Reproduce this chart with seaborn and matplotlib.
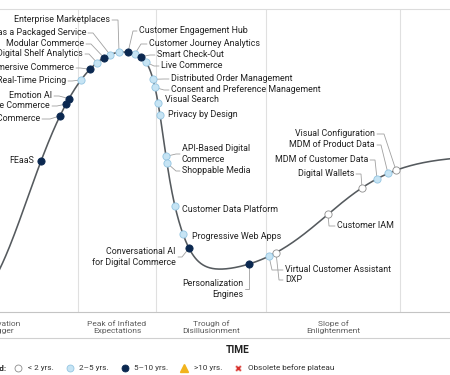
import numpy as np
import pandas as pd
import matplotlib
matplotlib.use("Agg")
import matplotlib.pyplot as plt
from matplotlib.lines import Line2D
import seaborn as sns

# ---------------- data ----------------
ITEMS = [
    "FEaaS", "Metaverse Commerce", "Voice Commerce", "Emotion AI", "Real-Time Pricing",
    "Immersive Commerce", "Digital Shelf Analytics", "Modular Commerce",
    "Commerce as a Packaged Service", "Enterprise Marketplaces",
    "Customer Engagement Hub", "Customer Journey Analytics", "Smart Check-Out",
    "Live Commerce", "Distributed Order Management", "Consent and Preference Management",
    "Visual Search", "Privacy by Design", "API-Based Digital Commerce", "Shoppable Media",
    "Customer Data Platform", "Progressive Web Apps", "Conversational AI for Digital Commerce",
    "Personalization Engines", "Virtual Customer Assistant", "DXP", "Customer IAM",
    "Digital Wallets", "MDM of Customer Data", "MDM of Product Data", "Visual Configuration",
]
POSITION = [41, 60, 66, 69, 81, 90, 97, 104, 110, 119,
            128, 135, 141, 146, 153, 155, 158, 160, 166, 167,
            175, 183, 189, 249, 269, 276, 328, 362, 377, 388, 396]
YEARS = ["5-10", "5-10", "5-10", "5-10", "2-5", "5-10", "2-5", "5-10", "2-5", "2-5",
         "5-10", "2-5", "5-10", "2-5", "2-5", "2-5", "2-5", "2-5", "2-5", "2-5",
         "2-5", "2-5", "5-10", "5-10", "2-5", "<2", "<2", "<2", "2-5", "2-5", "<2"]

PHASES = ["Innovation\nTrigger", "Peak of Inflated\nExpectations", "Trough of\nDisillusionment",
          "Slope of\nEnlightenment", "Plateau of\nProductivity"]
LEGEND_LABELS = ["< 2 yrs.", "2\u20135 yrs.", "5\u201310 yrs.", ">10 yrs.", "Obsolete before plateau"]
AXIS_TITLE = "TIME"

# ---------------- layout / style ----------------
W, H = 450, 375
XL, XR = -76, 600
PLOT_TOP, PLOT_BOT = 9, 312
PHASE_EDGES = [XL, 78, 156, 266, 400, XR]

STYLE = {
    "<2": ("#ffffff", "#8c8c8c"),
    "2-5": ("#c6e4f4", "#94c5e2"),
    "5-10": ("#0b2850", "#0b2850"),
}

# label layout: (text x, text row, alignment, elbow x)
LAYOUT = {
    "Enterprise Marketplaces": (110, 20, "right", 118),
    "Commerce as a Packaged Service": (86, 33, "right", 93),
    "Modular Commerce": (84, 44, "right", 91),
    "Digital Shelf Analytics": (83, 54, "right", 89),
    "Immersive Commerce": (74, 68, "right", 80),
    "Real-Time Pricing": (66, 81, "right", 72),
    "Emotion AI": (52, 96, "right", 59),
    "Voice Commerce": (50, 106, "right", 57),
    "Metaverse Commerce": (40, 119, "right", 50),
    "FEaaS": (34, 161, "right", None),
    "Customer Engagement Hub": (139, 31, "left", 133),
    "Customer Journey Analytics": (149, 44, "left", 141),
    "Smart Check-Out": (157, 55, "left", 150),
    "Live Commerce": (161, 66, "left", 154),
    "Distributed Order Management": (171, 79, "left", 164),
    "Consent and Preference Management": (171, 90, "left", 164),
    "Visual Search": (165, 100, "left", None),
    "Privacy by Design": (168, 115, "left", None),
    "API-Based Digital Commerce": (182, 154, "left", 176),
    "Shoppable Media": (182, 171, "left", 176),
    "Customer Data Platform": (182, 210, "left", None),
    "Progressive Web Apps": (192, 237, "left", None),
    "Conversational AI for Digital Commerce": (176, 257, "right", 182),
    "Personalization Engines": (243, 289, "right", 249),
    "Virtual Customer Assistant": (285, 270, "left", 272),
    "DXP": (285, 280, "left", 279),
    "Customer IAM": (337, 226, "left", 329),
    "Digital Wallets": (354, 174, "right", 361),
    "MDM of Customer Data": (368, 160, "right", 375),
    "MDM of Product Data": (375, 145, "right", 381),
    "Visual Configuration": (375, 134, "right", 384),
}
DISPLAY = {
    "API-Based Digital Commerce": "API-Based Digital\nCommerce",
    "Conversational AI for Digital Commerce": "Conversational AI\nfor Digital Commerce",
    "Personalization Engines": "Personalization\nEngines",
}


def hype(x):
    """Hype-cycle shape: expectations as a function of time."""
    x = np.asarray(x, float)
    mu, peak, trough = 123.0, 260.0, 35.0
    dl = np.clip(mu - x, 0, None)
    left = peak * np.exp(-(dl / 128.0) ** 2 - (dl / 127.0) ** 4.6)
    w = 7 + 4 / (1 + np.exp(-(x - 170) / 6.0))
    right = trough + (peak - trough) / (1 + np.exp((x - 167) / w)) \
        + 122 / (1 + np.exp(-(x - 326) / 36.0))
    return np.where(x < mu, left, right)


def row(ypix):
    return PLOT_BOT - ypix


sns.set_style("white")
plt.rcParams["font.family"] = ["Roboto", "DejaVu Sans"]

fig = plt.figure(figsize=(W / 100, H / 100), dpi=100)
ax = fig.add_axes([XL / W, (H - PLOT_BOT) / H, (XR - XL) / W, (PLOT_BOT - PLOT_TOP) / H])

# curve
xs = np.linspace(XL, XR, 1200)
curve = pd.DataFrame({"time": xs, "expectations": hype(xs)})
sns.lineplot(data=curve, x="time", y="expectations", color="#555a5e", lw=1.15,
             estimator=None, sort=False, ax=ax, zorder=2)

# items
df = pd.DataFrame({"item": ITEMS, "time": POSITION, "years": YEARS})
df["expectations"] = hype(df["time"])

# leader lines and labels
for _, r in df.iterrows():
    tx, ty, ha, ex = LAYOUT[r["item"]]
    ey = row(ty)
    if ex is not None:
        sx = tx + 2 if ha == "right" else tx - 2
        ax.plot([sx, ex, r["time"]], [ey, ey, r["expectations"]], color="#a0a0a0",
                lw=0.6, zorder=1, solid_joinstyle="miter")
    ax.text(tx, ey, DISPLAY.get(r["item"], r["item"]), ha=ha, va="center",
            fontsize=6.4, color="#222222", linespacing=1.15, zorder=4)

for cat, (fc, ec) in STYLE.items():
    sub = df[df["years"] == cat]
    sns.scatterplot(data=sub, x="time", y="expectations", color=fc, edgecolor=ec,
                    linewidth=0.6, s=27, ax=ax, zorder=3, legend=False)

# phase dividers and labels
for b in PHASE_EDGES[1:-1]:
    ax.axvline(b, color="#e0e0e0", lw=0.8, zorder=0)
for i, name in enumerate(PHASES):
    cx = (PHASE_EDGES[i] + PHASE_EDGES[i + 1]) / 2
    ax.text(cx, row(327), name, ha="center", va="center", fontsize=6.0,
            color="#5c5c5c", linespacing=1.2)
ax.axhline(row(338), color="#d0d0d0", lw=0.8, clip_on=False)
ax.text(238, row(350), AXIS_TITLE, ha="center", va="center", fontsize=7.3,
        fontweight="bold", color="#222222")

ax.set_xlim(XL, XR)
ax.set_ylim(0, PLOT_BOT - PLOT_TOP)
ax.set_xticks([])
ax.set_yticks([])
ax.set_xlabel("")
ax.set_ylabel("")
for side in ["left", "right"]:
    ax.spines[side].set_visible(False)
ax.spines["top"].set_color("#dcdcdc")
ax.spines["top"].set_linewidth(0.8)
ax.spines["bottom"].set_color("#c4c4c4")
ax.spines["bottom"].set_linewidth(0.8)

# legend
handles = [
    Line2D([], [], ls="none", marker="o", markersize=5, markerfacecolor=STYLE["<2"][0],
           markeredgecolor=STYLE["<2"][1], markeredgewidth=0.6),
    Line2D([], [], ls="none", marker="o", markersize=5, markerfacecolor=STYLE["2-5"][0],
           markeredgecolor=STYLE["2-5"][1], markeredgewidth=0.6),
    Line2D([], [], ls="none", marker="o", markersize=5, markerfacecolor=STYLE["5-10"][0],
           markeredgecolor=STYLE["5-10"][1], markeredgewidth=0.6),
    Line2D([], [], ls="none", marker="^", markersize=6, markerfacecolor="#f1b31c",
           markeredgecolor="#f1b31c"),
    Line2D([], [], ls="none", marker="X", markersize=5, markerfacecolor="#d8302c",
           markeredgecolor="#f6cfcc", markeredgewidth=0.5),
]
fig.legend(handles, LEGEND_LABELS, loc="center left", bbox_to_anchor=(14.2 / W, (H - 368) / H),
           ncol=5, frameon=False, fontsize=5.9, handlelength=1.0, handletextpad=0.66,
           columnspacing=1.45, borderpad=0, borderaxespad=0, labelcolor="#333333")
fig.text(7 / W, (H - 368) / H, "Legend:", ha="right", va="center", fontsize=5.9,
         fontweight="bold", color="#222222")

fig.savefig("out.png", dpi=100)
